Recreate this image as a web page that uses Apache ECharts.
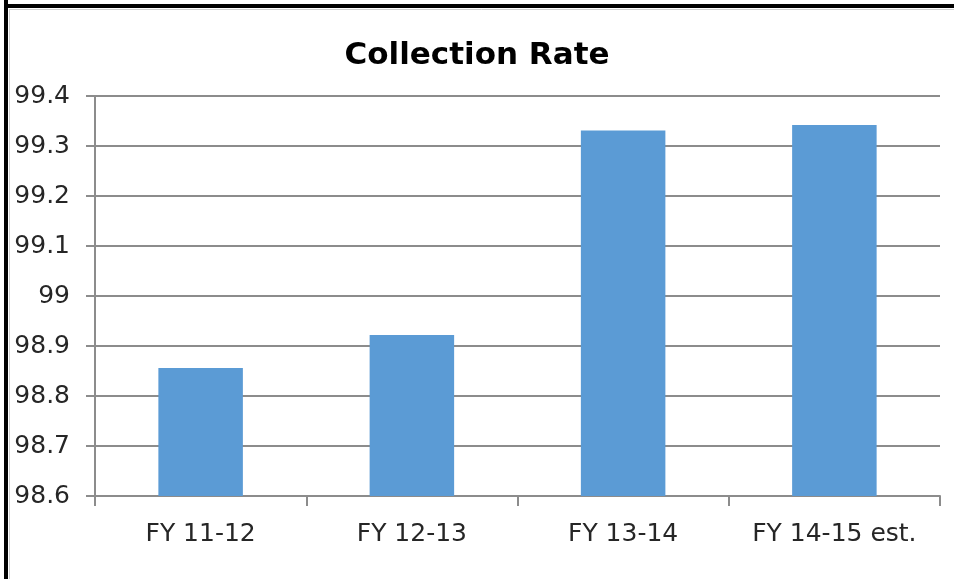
<!DOCTYPE html>
<html lang="en" style="height: 100%">
<head>
  <meta charset="utf-8">
</head>
<body style="height: 100%; margin: 0; background: #fff">
  <div id="container" style="width: 954px; height: 579px"></div>
  <script type="text/javascript" src="https://cdn.jsdelivr.net/npm/echarts@6/dist/echarts.min.js"></script>
  <script type="text/javascript">
    var categories = ['FY 11-12', 'FY 12-13', 'FY 13-14', 'FY 14-15 est.'];
    var rates = [98.856, 98.922, 99.331, 99.342];
    var yTicks = { min: 98.6, max: 99.4, interval: 0.1 };

    var font = '"DejaVu Sans", sans-serif';
    var gray = '#8c8c8c';

    var myChart = echarts.init(document.getElementById('container'), null, { renderer: 'canvas' });
    var option = {
      backgroundColor: '#fff',
      animation: false,
      title: {
        text: 'Collection Rate',
        left: 'center',
        top: 35,
        textStyle: { fontFamily: font, fontSize: 31, fontWeight: 'bold', color: '#000' }
      },
      graphic: [
        { type: 'line', shape: { x1: 6, y1: 0, x2: 6, y2: 579 }, style: { stroke: '#000', lineWidth: 4 } },
        { type: 'line', shape: { x1: 4, y1: 6, x2: 954, y2: 6 }, style: { stroke: '#000', lineWidth: 4 } },
        { type: 'line', shape: { x1: 9.5, y1: 9, x2: 9.5, y2: 579 }, style: { stroke: '#d0d0d0', lineWidth: 1 } },
        { type: 'line', shape: { x1: 9, y1: 9.5, x2: 954, y2: 9.5 }, style: { stroke: '#d0d0d0', lineWidth: 1 } }
      ],
      grid: { left: 95, right: 14, top: 96, bottom: 83, containLabel: false },
      xAxis: {
        type: 'category',
        data: categories,
        axisLine: { lineStyle: { color: gray, width: 2 } },
        axisTick: { show: true, interval: 0, length: 10, lineStyle: { color: gray, width: 2 } },
        axisLabel: { interval: 0, hideOverlap: false, fontFamily: font, fontSize: 25, color: '#262626', margin: 26 }
      },
      yAxis: {
        type: 'value',
        min: yTicks.min,
        max: yTicks.max,
        interval: yTicks.interval,
        axisLine: { show: true, lineStyle: { color: gray, width: 2 } },
        axisTick: { show: true, length: 9, lineStyle: { color: gray, width: 2 } },
        splitLine: { lineStyle: { color: gray, width: 2 } },
        axisLabel: {
          fontFamily: font, fontSize: 25, color: '#262626', margin: 25,
          formatter: function (v) { return String(Math.round(v * 10) / 10); }
        }
      },
      series: [{
        type: 'bar',
        data: rates,
        barWidth: '40%',
        itemStyle: { color: '#5b9bd5' }
      }]
    };
    myChart.setOption(option);
  </script>
</body>
</html>
